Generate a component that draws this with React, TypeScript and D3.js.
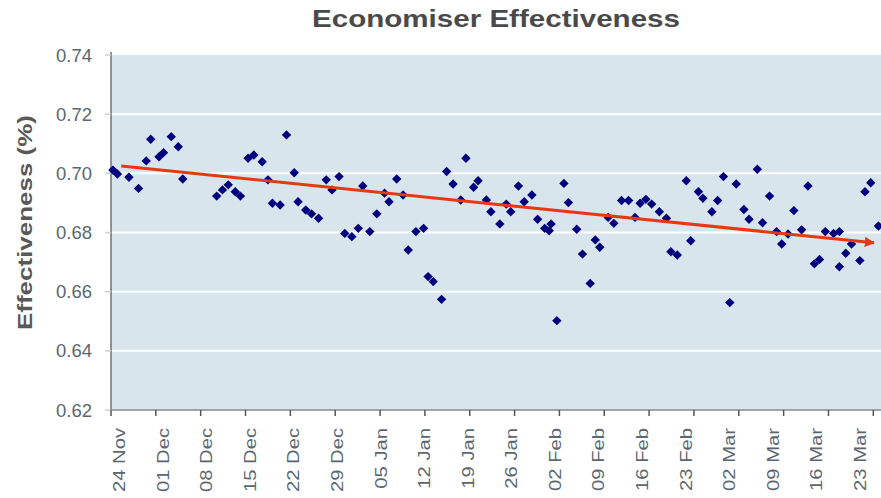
import React from "react";
import * as d3 from "d3";

// ---- data ----
const startDate = new Date(Date.UTC(2008, 10, 24)); // 24 Nov
const dayOffsets = [
  0.3, 1.0, 2.8, 4.3, 5.5, 6.2, 7.5, 8.2, 9.4, 10.5, 11.2,
  16.5, 17.4, 18.3, 19.4, 20.2, 21.4, 22.3, 23.6, 24.5, 25.2, 26.4, 27.4, 28.6, 29.2,
  30.4, 31.3, 32.4, 33.6, 34.5, 35.6, 36.5, 37.6, 38.6, 39.3, 40.4, 41.5, 42.7, 43.4,
  44.6, 45.6, 46.4, 47.6, 48.8, 49.5, 50.3, 51.6, 52.4, 53.4, 54.6, 55.4, 56.6, 57.3,
  58.6, 59.3, 60.7, 61.7, 62.4, 63.6, 64.5, 65.7, 66.6, 67.7, 68.4, 68.7, 69.6, 70.7,
  71.4, 72.7, 73.6, 74.8, 75.6, 76.3, 77.6, 78.5, 79.7, 80.8, 81.8, 82.6, 83.5, 84.4,
  85.6, 86.7, 87.4, 88.4, 89.8, 90.5, 91.7, 92.4, 93.8, 94.7, 95.6, 96.6, 97.6, 98.8,
  99.6, 100.9, 101.7, 102.8, 103.9, 104.7, 105.7, 106.6, 107.8, 108.8, 109.8, 110.6,
  111.5, 112.8, 113.7, 113.7, 114.7, 115.6, 116.9, 117.7, 118.6, 119.8,
];
const effectiveness = [
  0.7011, 0.6998, 0.6987, 0.6949, 0.7042, 0.7115, 0.7056, 0.707, 0.7124, 0.709, 0.6981,
  0.6923, 0.6944, 0.6961, 0.6938, 0.6923, 0.7051, 0.7062, 0.7039, 0.6978, 0.6899, 0.6893, 0.713, 0.7002, 0.6904,
  0.6876, 0.6863, 0.6848, 0.6978, 0.6944, 0.6989, 0.6797, 0.6786, 0.6814, 0.6957, 0.6803, 0.6863, 0.6933, 0.6904,
  0.6981, 0.6927, 0.6741, 0.6803, 0.6814, 0.6651, 0.6634, 0.6574, 0.7006, 0.6964, 0.691, 0.7051, 0.6953, 0.6975,
  0.691, 0.687, 0.6829, 0.6896, 0.687, 0.6957, 0.6904, 0.6927, 0.6845, 0.6814, 0.6806, 0.6829, 0.6502, 0.6966,
  0.6901, 0.6811, 0.6727, 0.6628, 0.6775, 0.675, 0.6851, 0.6831, 0.6908, 0.6908, 0.6851, 0.6899, 0.6912, 0.6896,
  0.687, 0.6848, 0.6735, 0.6724, 0.6975, 0.6772, 0.6938, 0.6916, 0.687, 0.6908, 0.6989, 0.6563, 0.6964, 0.6878,
  0.6845, 0.7014, 0.6833, 0.6923, 0.6803, 0.6761, 0.6795, 0.6874, 0.6809, 0.6957, 0.6694, 0.6709,
  0.6803, 0.6797, 0.6803, 0.6684, 0.673, 0.6761, 0.6705, 0.6938, 0.6968, 0.6822,
];
const trendDays = [1.6, 119.1];
const trendValues = [0.7025, 0.6765];
const yTickValues = [0.62, 0.64, 0.66, 0.68, 0.7, 0.72, 0.74];
const xTickLabels = [
  "24 Nov", "01 Dec", "08 Dec", "15 Dec", "22 Dec", "29 Dec", "05 Jan", "12 Jan", "19 Jan",
  "26 Jan", "02 Feb", "09 Feb", "16 Feb", "23 Feb", "02 Mar", "09 Mar", "16 Mar", "23 Mar",
];

const W = 881;
const H = 498;
const plotLeft = 111;
const plotRight = 881;
const plotTop = 55;
const plotBottom = 410;

export default function App() {
  const dayMs = 86400000;
  const endDate = new Date(startDate.getTime() + 120.2 * dayMs);
  const x = d3.scaleUtc().domain([startDate, endDate]).range([plotLeft, plotRight]);
  const xd = (d: number) => x(new Date(startDate.getTime() + d * dayMs));
  const y = d3.scaleLinear().domain([0.62, 0.74]).range([plotBottom, plotTop]);

  const tickDates = xTickLabels.map((_, i) => d3.utcDay.offset(startDate, i * 7));
  // labels are laid out on their own evenly spaced slots (as in the reference)
  const labelX = d3.scalePoint<string>().domain(xTickLabels).range([119, 860]);

  const diamond = (cx: number, cy: number, r: number) => {
    const p = d3.path();
    p.moveTo(cx, cy - r);
    p.lineTo(cx + r, cy);
    p.lineTo(cx, cy + r);
    p.lineTo(cx - r, cy);
    p.closePath();
    return p.toString();
  };

  const trendLine = d3
    .line<number>()
    .x((_, i) => xd(trendDays[i]))
    .y((v) => y(v));

  return (
    <svg
      width={W}
      height={H}
      style={{ position: "absolute", left: 0, top: 0, background: "#fff" }}
      fontFamily="'Liberation Sans', Arial, sans-serif"
    >
      <defs>
        <marker
          id="arrow"
          viewBox="0 0 10 10"
          refX="9"
          refY="5"
          markerWidth="3.4"
          markerHeight="3.4"
          markerUnits="strokeWidth"
          orient="auto"
        >
          <path d="M0,0 L10,5 L0,10 Z" fill="#e8380f" />
        </marker>
        <filter id="soft" x="-20%" y="-20%" width="140%" height="140%">
          <feGaussianBlur stdDeviation="0.45" />
        </filter>
      </defs>

      {/* title */}
      <text
        x={496}
        y={26.5}
        textAnchor="middle"
        fontWeight="bold"
        fontSize={24.5}
        fill="#4a4a4a"
        textLength={368}
        lengthAdjust="spacingAndGlyphs"
      >
        Economiser Effectiveness
      </text>

      {/* plot background */}
      <rect x={plotLeft} y={plotTop} width={plotRight - plotLeft} height={plotBottom - plotTop} fill="#d8e5ed" />

      {/* gridlines */}
      {yTickValues
        .filter((v) => v > 0.62 && v < 0.74)
        .map((v) => (
          <line key={v} x1={plotLeft} x2={plotRight} y1={y(v)} y2={y(v)} stroke="#ffffff" strokeWidth={2} />
        ))}

      {/* y axis */}
      <line x1={plotLeft} x2={plotLeft} y1={plotTop - 3} y2={plotBottom} stroke="#707070" strokeWidth={1.5} />
      {yTickValues.map((v) => (
        <g key={v}>
          <line x1={plotLeft - 6} x2={plotLeft} y1={y(v)} y2={y(v)} stroke="#c8d0d4" strokeWidth={1.5} />
          <text x={92} y={y(v)} dy="0.36em" textAnchor="end" fontSize={18.5} fill="#5b6770">
            {d3.format(".2f")(v)}
          </text>
        </g>
      ))}

      {/* y label */}
      <text
        transform={`translate(31.5, 222.5) rotate(-90)`}
        textAnchor="middle"
        fontWeight="bold"
        fontSize={21}
        fill="#595959"
        textLength={215}
        lengthAdjust="spacingAndGlyphs"
      >
        Effectiveness (%)
      </text>

      {/* x axis */}
      <line x1={plotLeft} x2={plotRight} y1={plotBottom} y2={plotBottom} stroke="#8a8a8a" strokeWidth={1.5} />
      {tickDates.map((d, i) => (
        <line key={i} x1={x(d)} x2={x(d)} y1={plotBottom} y2={plotBottom + 6} stroke="#555" strokeWidth={1.5} />
      ))}
      {xTickLabels.map((lab) => (
        <text
          key={lab}
          transform={`translate(${(labelX(lab) as number) + 6}, 428) rotate(-90) scale(1.24, 1)`}
          textAnchor="end"
          fontSize={16.3}
          fill="#5b6770"
        >
          {lab}
        </text>
      ))}

      {/* points */}
      <g fill="#00007e" filter="url(#soft)">
        {dayOffsets.map((d, i) => (
          <path key={i} d={diamond(xd(d), y(effectiveness[i]), 4.7)} />
        ))}
      </g>

      {/* trend */}
      <path
        d={trendLine(trendValues) || ""}
        fill="none"
        stroke="#e8380f"
        strokeWidth={3}
        markerEnd="url(#arrow)"
      />
    </svg>
  );
}
